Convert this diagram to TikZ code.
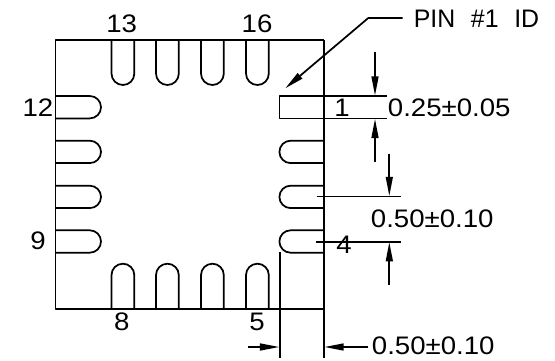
\documentclass[tikz,border=0pt]{standalone}
\usepackage{fontspec}
\setmainfont{Liberation Sans}
\usetikzlibrary{arrows.meta}
\tikzset{
  pinlabel/.style={inner sep=0pt,xscale=1.09,font=\fontsize{19}{22}\selectfont},
  dimarrow/.style={-{Triangle[length=14.5pt,width=5.2pt]}}
}
\begin{document}
\begin{tikzpicture}[line cap=butt,line join=round,x=0.75pt,y=0.75pt,line width=1.3pt]
        \useasboundingbox (0,0) rectangle (555,360);
        % package outline
        \draw (324,320)-- (55.5,320)-- (55.5,51.3)-- (324,51.3);
        \draw (324,320)-- (324,2);
        % top pads
        \draw (111.5,320)-- (111.5,286.4) arc (180:360:11.4)-- (134.3,320);
        \draw (156,320)-- (156,286.4) arc (180:360:11.4)-- (178.8,320);
        \draw (201,320)-- (201,286.4) arc (180:360:11.4)-- (223.8,320);
        \draw (246,320)-- (246,286.4) arc (180:360:11.4)-- (268.8,320);
        % bottom pads
        \draw (111.5,51.3)-- (111.5,84.9) arc (180:0:11.4)-- (134.3,51.3);
        \draw (156,51.3)-- (156,84.9) arc (180:0:11.4)-- (178.8,51.3);
        \draw (201,51.3)-- (201,84.9) arc (180:0:11.4)-- (223.8,51.3);
        \draw (246,51.3)-- (246,84.9) arc (180:0:11.4)-- (268.8,51.3);
        % left pads
        \draw (55.5,264)-- (89.8,264) arc (90:-90:11.2)-- (55.5,241.6);
        \draw (55.5,219.3)-- (89.8,219.3) arc (90:-90:11.2)-- (55.5,196.9);
        \draw (55.5,174.3)-- (89.8,174.3) arc (90:-90:11.2)-- (55.5,151.9);
        \draw (55.5,129.7)-- (89.8,129.7) arc (90:-90:11.2)-- (55.5,107.3);
        % right pads
        \draw (324,219.3)-- (290.6,219.3) arc (90:270:11.2)-- (324,196.9);
        \draw (324,174.3)-- (290.6,174.3) arc (90:270:11.2)-- (324,151.9);
        \draw (324,129.7)-- (290.6,129.7) arc (90:270:11.2)-- (324,107.3);
        % pin 1 pad
        \draw (386.7,264)-- (279.5,264)-- (279.5,241.6)-- (386.7,241.6);
        % extension lines
        \draw (316.7,163.5)-- (400.7,163.5);
        \draw (315.7,118.3)-- (400.7,118.3);
        \draw (279.7,107.7)-- (279.7,2);
        % leader
        \coordinate (leaderstart) at (402.7,342);
        \coordinate (leaderbend) at (368.3,342);
        \coordinate (leaderend) at (285.3,271.7);
        \draw [dimarrow] (leaderstart)-- (leaderbend)-- (leaderend);
        % dimension arrows
        \draw [dimarrow] (375,307.7)-- (375,264.4);
        \draw [dimarrow] (375,198)-- (375,241.2);
        \draw [dimarrow] (389.3,206.3)-- (389.3,163.9);
        \draw [dimarrow] (389.3,75)-- (389.3,117.9);
        \draw [dimarrow] (248,13)-- (279.3,13);
        \draw [dimarrow] (368.3,13)-- (324.4,13);
        % labels
        \node[pinlabel,xscale=0.9,anchor=west] (pinid) at (413,341.5) {PIN\hspace{12pt}\#1\hspace{12pt}ID};
        \node[pinlabel,anchor=west] (dimwidth) at (387,252.5) {0.25±0.05};
        \node[pinlabel,anchor=west] (dimpitch) at (370,141) {0.50±0.10};
        \node[pinlabel,anchor=west] (dimgap) at (371,14) {0.50±0.10};
        \node[pinlabel] (pinone) at (342,252.5) {1};
        \node[pinlabel] (pinfour) at (344,115.5) {4};
        \node[pinlabel] (pinfive) at (257,38) {5};
        \node[pinlabel] (pineight) at (121.7,38) {8};
        \node[pinlabel] (pinnine) at (38,119.5) {9};
        \node[pinlabel] (pintwelve) at (38,252.5) {12};
        \node[pinlabel] (pinthirteen) at (121.7,336) {13};
        \node[pinlabel] (pinsixteen) at (257,336) {16};
\end{tikzpicture}
\end{document}
